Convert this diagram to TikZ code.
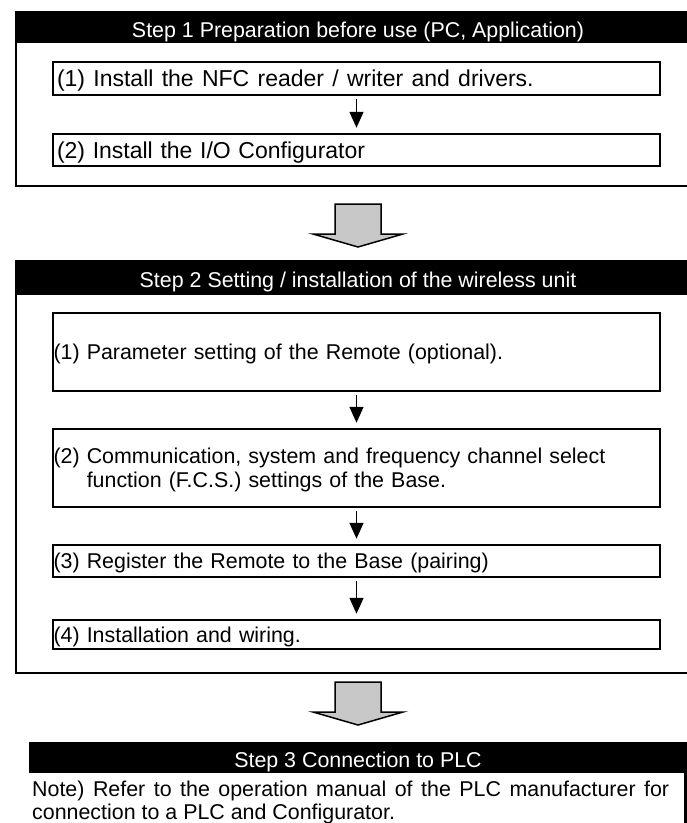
\documentclass[tikz,border=0pt]{standalone}
\usepackage{fontspec}
\setmainfont{Liberation Sans}
\usetikzlibrary{arrows.meta}
\definecolor{arrgray}{RGB}{200,200,200}

\begin{document}
\begin{tikzpicture}[x=1pt, y=-1pt,
    font=\fontsize{21.4}{24}\selectfont,
    frm/.style={draw, line width=2.5pt},
    hdr/.style={fill=black, text=white, inner sep=0pt, text height=20pt, text depth=0pt},
    task1/.style={draw, line width=2.5pt, inner xsep=4pt, inner ysep=0pt, text width=599pt, align=left, font=\fontsize{23}{26}\selectfont, text height=16.5pt, text depth=0pt},
    task2/.style={draw, line width=2.5pt, inner xsep=0.5pt, inner ysep=0pt, text width=606pt, align=left, text height=15.3pt, text depth=0pt},
    arr/.style={line width=1.6pt, -{Triangle[width=14pt,length=16pt]}},
    bigarr/.style={draw=black, line width=1.5pt, fill=arrgray, line join=miter}]
    \clip (0,0) rectangle (687,823);
    % step 1
    \node[frm, minimum width=684pt, minimum height=174pt] (fr1) at (358,99) {};
    \node[hdr, minimum width=686.5pt, minimum height=32pt] (hd1) at (358,27) {Step 1 Preparation before use (PC, Application)};
    \node[task1, minimum height=33pt] (s1a) at (356.5,78.5) {\spaceskip=8.3pt\relax (1) Install the NFC reader / writer and drivers.};
    \node[task1, minimum height=32pt] (s1b) at (356.5,150) {(2) Install the I/O Configurator};
    % step 2
    \node[frm, minimum width=684pt, minimum height=412pt] (fr2) at (358,467) {};
    \node[hdr, minimum width=686.5pt, minimum height=34pt] (hd2) at (358,277.5) {Step 2 Setting / installation of the wireless unit};
    \node[task2, minimum height=78pt] (s2a) at (356.5,352) {(1) Parameter setting of the Remote (optional).};
    \node[task2, minimum height=78pt, text depth=24pt] (s2b) at (356.5,468) {(2) Communication, system and frequency channel select\\\hphantom{(2)}\ function (F.C.S.) settings of the Base.};
    \node[task2, minimum height=32pt] (s2c) at (356.5,561) {(3) Register the Remote to the Base (pairing)};
    \node[task2, minimum height=29pt] (s2d) at (356.5,634.5) {(4) Installation and wiring.};
    % step 3
    \node[hdr, minimum width=658pt, minimum height=31pt] (hd3) at (358,757.5) {Step 3 Connection to PLC};
    \node[inner sep=0pt, anchor=north west, text width=637pt, align=justify, font=\fontsize{21.4}{23}\selectfont] (note) at (32,781) {Note) Refer to the operation manual of the PLC manufacturer for connection to a PLC and Configurator.};
    \draw[frm] ([xshift=-1.5pt]hd3.south east) -- ++(0,60);
    % edges
    \draw[arr] ([yshift=-3pt]s1a.south) -- ([yshift=5pt]s1b.north);
    \draw[arr] ([yshift=-3pt]s2a.south) -- ([yshift=5pt]s2b.north);
    \draw[arr] ([yshift=-3pt]s2b.south) -- ([yshift=5pt]s2c.north);
    \draw[arr] ([yshift=-3pt]s2c.south) -- ([yshift=5pt]s2d.north);
    \foreach \y in {204,682}
        \draw[bigarr] (335,\y) -- ++(46,0) -- ++(0,30) -- ++(22,0) -- ++(-45,13) -- ++(-45,-13) -- ++(22,0) -- cycle;
\end{tikzpicture}
\end{document}
